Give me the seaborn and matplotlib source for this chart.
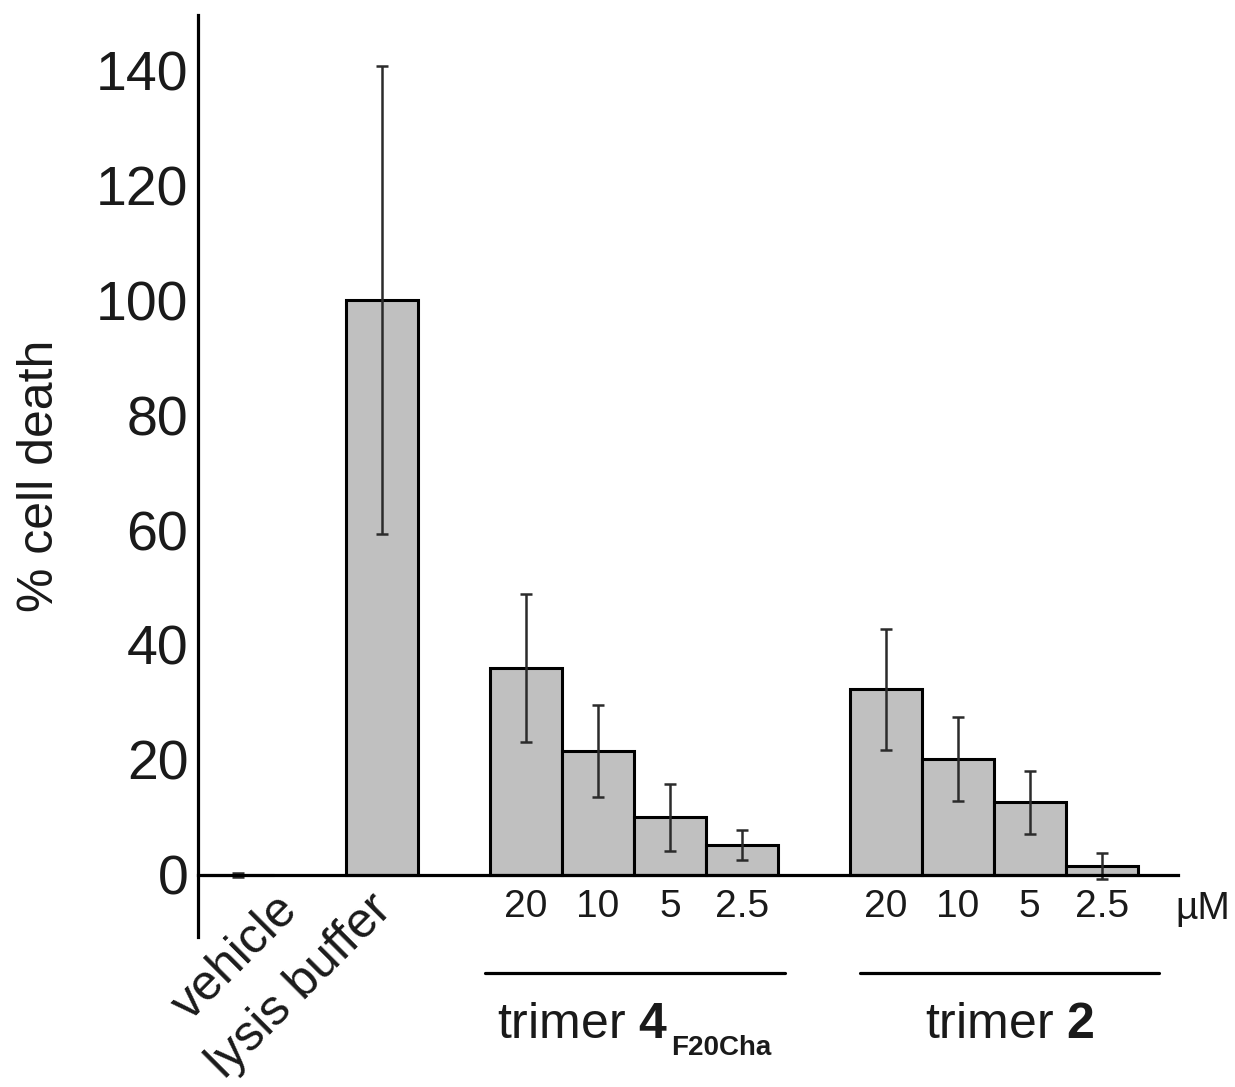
import matplotlib
matplotlib.use("Agg")
import matplotlib.pyplot as plt
import seaborn as sns
import pandas as pd

# ---- data ----
controls = ["vehicle", "lysis buffer"]
control_mean = [0.0, 100.0]
control_err = [0.3, 40.7]

doses = ["20", "10", "5", "2.5"]
trimer4_mean = [36.0, 21.6, 10.0, 5.2]
trimer4_err = [12.8, 8.0, 5.8, 2.65]
trimer2_mean = [32.3, 20.1, 12.6, 1.6]
trimer2_err = [10.5, 7.3, 5.4, 2.3]

yticks = [0, 20, 40, 60, 80, 100, 120, 140]
unit_label = "µM"
y_label = "% cell death"

# ---- layout (positions built from group structure) ----
ctrl_pos = [0, 2]
g4_pos = [4 + i for i in range(len(doses))]
g2_pos = [9 + i for i in range(len(doses))]
pos = ctrl_pos + g4_pos + g2_pos
means = control_mean + trimer4_mean + trimer2_mean
errs = control_err + trimer4_err + trimer2_err
df = pd.DataFrame({"pos": pos, "value": means, "err": errs})

sns.set_theme(style="white")
plt.rcParams["font.family"] = ["Liberation Sans", "DejaVu Sans"]
plt.rcParams["mathtext.fontset"] = "custom"
plt.rcParams["mathtext.rm"] = "Liberation Sans"
plt.rcParams["mathtext.bf"] = "Liberation Sans:bold"

W, H = 1235, 1087
fig = plt.figure(figsize=(W / 100, H / 100), dpi=100)
ax = fig.add_axes([198 / W, 1 - 937 / H, (1178 - 198) / W, (937 - 15) / H])

sns.barplot(data=df, x="pos", y="value", native_scale=True, width=1,
            color="#c0c0c0", saturation=1, edgecolor="black", linewidth=2.2,
            errorbar=None, ax=ax, zorder=2)
ax.errorbar(df["pos"], df["value"], yerr=df["err"], fmt="none",
            ecolor="#2b2b2b", elinewidth=1.8, capsize=4.5, capthick=1.8,
            zorder=3)

ax.set_xlim(-0.556, 13.06)
ax.set_ylim(-10.8, 149.6)

for s in ["top", "right"]:
    ax.spines[s].set_visible(False)
ax.spines["left"].set_linewidth(2.3)
ax.spines["left"].set_color("black")
ax.spines["bottom"].set_position(("data", 0))
ax.spines["bottom"].set_linewidth(2.3)
ax.spines["bottom"].set_color("black")
ax.spines["bottom"].set_zorder(4)

ax.set_yticks(yticks)
ax.set_yticklabels([str(v) for v in yticks])
ax.tick_params(axis="y", direction="in", length=14, width=1.5,
               color="#b0b0b0", labelsize=40, pad=7, labelcolor="#1a1a1a")

ax.set_xticks(g4_pos + g2_pos)
ax.set_xticklabels(doses + doses)
ax.tick_params(axis="x", length=0, labelsize=28, pad=10, labelcolor="#1a1a1a")
ax.set_xlabel("")

ax.set_ylabel(y_label, fontsize=36, color="#1a1a1a")
ax.yaxis.set_label_coords(-0.138, 0.5)

# unit label
ax.text(13.41, -7.6, unit_label, ha="center", va="baseline", fontsize=28,
        color="#1a1a1a", clip_on=False)

# rotated control labels
ax.text(0.5, -2.0, controls[0], rotation=45, rotation_mode="anchor",
        ha="right", va="top", fontsize=36, color="#1a1a1a", clip_on=False)
ax.text(1.8, -2.0, controls[1], rotation=45, rotation_mode="anchor",
        ha="right", va="top", fontsize=36, color="#1a1a1a", clip_on=False)

# group lines
ax.plot([3.43, 7.6], [-17.0, -17.0], color="black", lw=2.3, clip_on=False)
ax.plot([8.64, 12.8], [-17.0, -17.0], color="black", lw=2.3, clip_on=False)

# group labels
t4 = ax.text(3.6, -28.3, r"trimer $\mathbf{4}$", ha="left", va="baseline",
             fontsize=36, color="#1a1a1a", clip_on=False)
ax.annotate("F20Cha", xy=(1, 0), xycoords=t4, xytext=(2, -5),
            textcoords="offset points", ha="left", va="baseline",
            fontsize=20, fontweight="bold", color="#1a1a1a",
            annotation_clip=False)
ax.text(9.54, -28.3, r"trimer $\mathbf{2}$", ha="left", va="baseline",
        fontsize=36, color="#1a1a1a", clip_on=False)

fig.savefig("out.png", dpi=100, facecolor="white")
